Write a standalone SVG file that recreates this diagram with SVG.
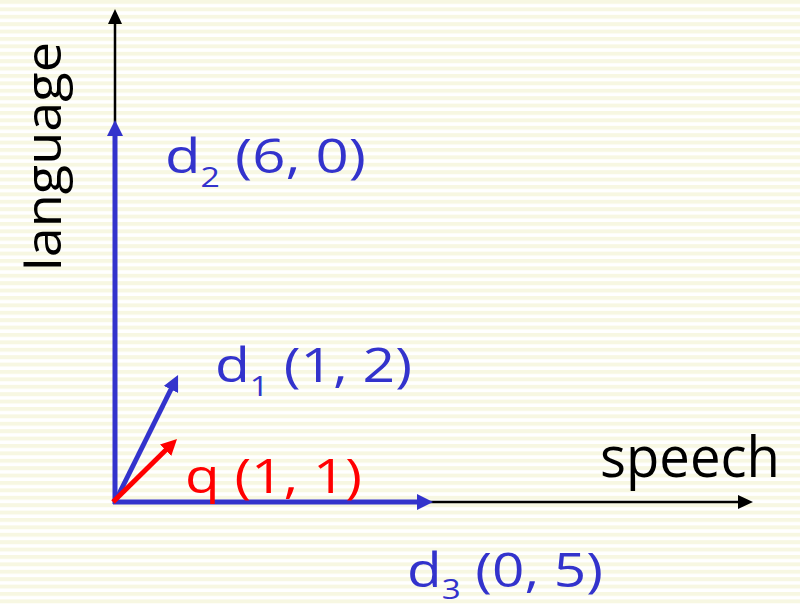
<svg xmlns="http://www.w3.org/2000/svg" width="800" height="606" viewBox="0 0 800 606">
<defs>
<pattern id="stripes" patternUnits="userSpaceOnUse" width="800" height="7.4">
<rect x="0" y="0" width="800" height="7.4" fill="#ffffff"/>
<rect x="0" y="0" width="800" height="3.9" fill="#f7f7e2"/>
</pattern>
<marker id="hb" markerUnits="userSpaceOnUse" markerWidth="16" markerHeight="16" refX="6" refY="8" orient="auto"><path d="M0,0 L16,8 L0,16 z" fill="#3333cc"/></marker>
<marker id="hr" markerUnits="userSpaceOnUse" markerWidth="16" markerHeight="16" refX="6" refY="8" orient="auto"><path d="M0,0 L16,8 L0,16 z" fill="#ff0000"/></marker>
<marker id="hk" markerUnits="userSpaceOnUse" markerWidth="15" markerHeight="14" refX="6" refY="7" orient="auto"><path d="M0,0 L15,7 L0,14 z" fill="#000000"/></marker>
</defs>
<style>
.t{font-family:"Open Sans","DejaVu Sans",sans-serif;}
.blue{fill:#3333cc;}
.red{fill:#ff0000;}
.blk{fill:#000000;}
.ax{stroke:#000000;stroke-width:2.5;fill:none;marker-end:url(#hk);}
.vb{stroke:#3333cc;stroke-width:5;fill:none;marker-end:url(#hb);}
.vr{stroke:#ff0000;stroke-width:5;fill:none;marker-end:url(#hr);}
</style>
<rect x="0" y="0" width="800" height="606" fill="url(#stripes)"/>
<g id="connectors">
<line class="ax" x1="115" y1="500" x2="115" y2="18"/>
<line class="ax" x1="113" y1="502" x2="744" y2="502"/>
<line class="vb" x1="115" y1="504" x2="115" y2="130"/>
<line class="vb" x1="113" y1="502" x2="423" y2="502"/>
<line class="vb" x1="115" y1="502" x2="173.6" y2="384"/>
<line class="vr" x1="113" y1="502" x2="169.9" y2="446"/>
</g>
<g id="language">
<text class="t blk" transform="translate(61,271) rotate(-90)" x="0" y="0" font-size="50" textLength="229" lengthAdjust="spacingAndGlyphs">language</text>
</g>
<g id="speech">
<text class="t blk" x="600" y="477" font-size="56" textLength="180" lengthAdjust="spacingAndGlyphs">speech</text>
</g>
<g id="d2">
<text class="t blue" x="165" y="173" font-size="48" textLength="201" lengthAdjust="spacingAndGlyphs">d<tspan font-size="28" dy="14">2</tspan><tspan dy="-14"> (6, 0)</tspan></text>
</g>
<g id="d1">
<text class="t blue" x="215" y="382" font-size="48" textLength="197" lengthAdjust="spacingAndGlyphs">d<tspan font-size="28" dy="14">1</tspan><tspan dy="-14"> (1, 2)</tspan></text>
</g>
<g id="q">
<text class="t red" x="185" y="493" font-size="48" textLength="177" lengthAdjust="spacingAndGlyphs">q (1, 1)</text>
</g>
<g id="d3">
<text class="t blue" x="407" y="587" font-size="48" textLength="196" lengthAdjust="spacingAndGlyphs">d<tspan font-size="28" dy="12">3</tspan><tspan dy="-12"> (0, 5)</tspan></text>
</g>
</svg>
